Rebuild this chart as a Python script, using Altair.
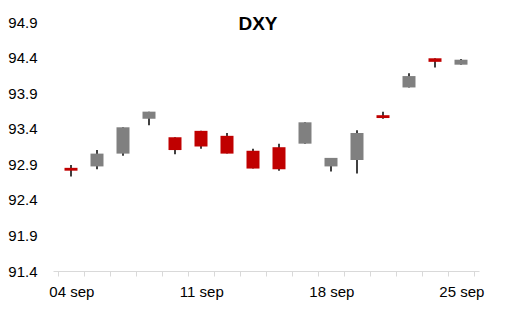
import altair as alt
import pandas as pd

dates = ["04 sep", "05 sep", "06 sep", "07 sep", "08 sep",
         "11 sep", "12 sep", "13 sep", "14 sep", "15 sep",
         "18 sep", "19 sep", "20 sep", "21 sep", "22 sep", "25 sep"]
open_ = [92.85, 92.87, 93.05, 93.54, 93.28, 93.37, 93.30, 93.09,
         93.14, 93.19, 92.87, 92.96, 93.59, 93.98, 94.39, 94.30]
close = [92.81, 93.05, 93.42, 93.64, 93.10, 93.15, 93.05, 92.84,
         92.83, 93.49, 92.99, 93.34, 93.55, 94.14, 94.34, 94.37]
high = [92.89, 93.10, 93.42, 93.64, 93.28, 93.37, 93.34, 93.12,
        93.19, 93.49, 92.99, 93.38, 93.64, 94.18, 94.39, 94.38]
low = [92.73, 92.83, 93.02, 93.45, 93.04, 93.12, 93.05, 92.84,
       92.81, 93.19, 92.80, 92.77, 93.54, 93.98, 94.26, 94.30]
y_ticks = [91.4, 91.9, 92.4, 92.9, 93.4, 93.9, 94.4, 94.9]
label_every = 5

df = pd.DataFrame({"idx": list(range(len(dates))), "date": dates,
                   "open": open_, "close": close, "high": high, "low": low})
df["dir"] = ["down" if o > c else "up" for o, c in zip(open_, close)]

n = len(dates)
W, H = 426, 249
band = W / n
tick_vals = [i - 0.5 for i in range(n + 1)]
lab_arr = [dates[i] if (i < n and i % label_every == 0) else "" for i in range(n + 1)]
label_expr = "[" + ",".join("'" + s + "'" for s in lab_arr) + "][datum.value + 0.5]"

font = "Liberation Sans"

x = alt.X("idx:Q",
          scale=alt.Scale(domain=[-0.5, n - 0.5], nice=False, zero=False),
          axis=alt.Axis(values=tick_vals, labelExpr=label_expr, labelOffset=band / 2,
                        title=None, grid=False, domainColor="#d9d9d9", tickColor="#d9d9d9",
                        tickSize=5, labelFontSize=15, labelFont=font, labelColor="#000000",
                        labelPadding=8, labelFlush=False, labelOverlap=False))
yscale = alt.Scale(domain=[y_ticks[0], y_ticks[-1]], nice=False, zero=False)
yaxis = alt.Axis(values=y_ticks, format=".1f", title=None, grid=False, domain=False,
                 ticks=False, labelFontSize=15, labelFont=font, labelColor="#000000",
                 labelPadding=16)

base = alt.Chart(df)
wick = base.mark_rule(color="#404040", strokeWidth=2).encode(
    x=x, y=alt.Y("low:Q", scale=yscale, axis=yaxis), y2="high:Q")
body = base.mark_bar(size=13).encode(
    x=x, y=alt.Y("open:Q", scale=yscale, axis=yaxis), y2="close:Q",
    color=alt.Color("dir:N", scale=alt.Scale(domain=["up", "down"],
                                             range=["#808080", "#C00000"]), legend=None))

chart = alt.layer(wick, body).properties(
    width=W, height=H,
    title=alt.TitleParams("DXY", fontSize=19, font=font, fontWeight="bold",
                          color="#000000", anchor="middle", dy=23, dx=-8),
    autosize=alt.AutoSizeParams(type="none"),
    padding={"left": 53, "top": 22, "right": 26, "bottom": 41},
).configure_view(stroke=None)

chart.save("out.html", embed_options={"renderer": "svg", "actions": False})
